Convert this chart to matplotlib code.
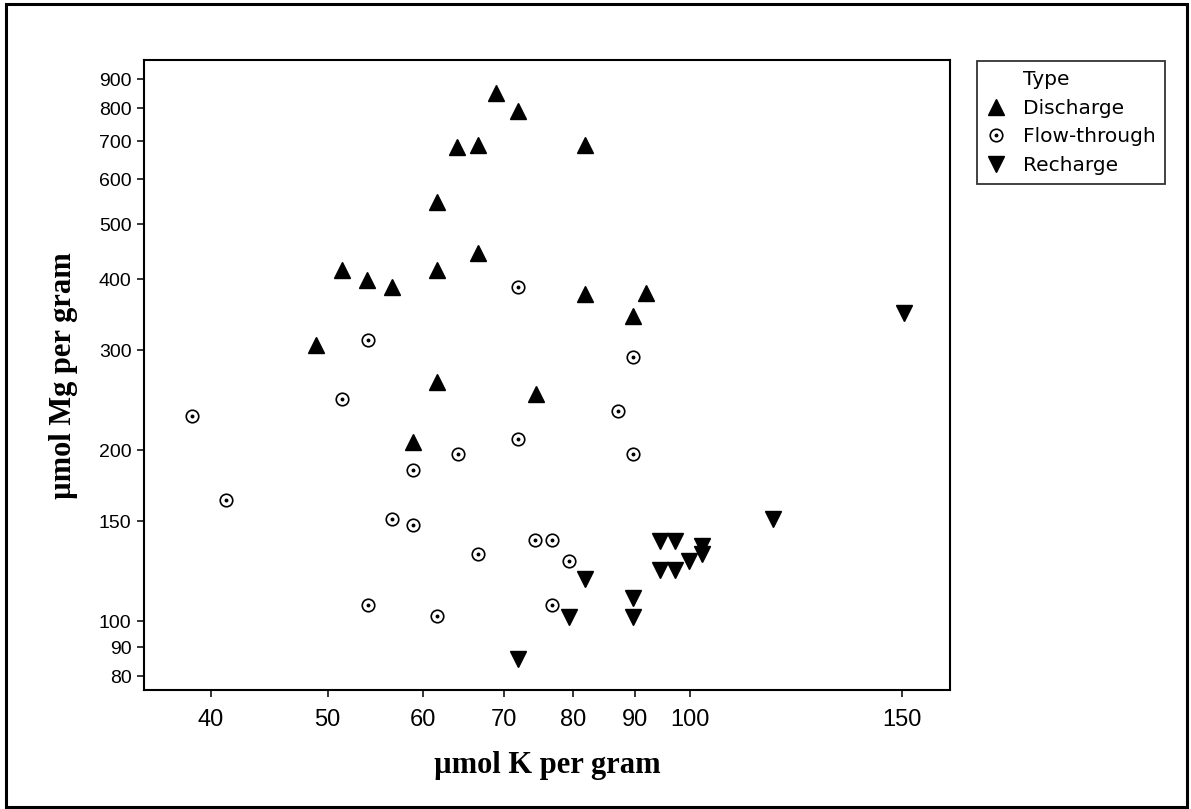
"""
Scatter of Mg vs K (log-log) for discharge / flow-through / recharge sites.

Output:
    out.png
"""

import matplotlib

matplotlib.use("Agg")

import matplotlib.pyplot as plt
from matplotlib.lines import Line2D
from matplotlib.patches import Rectangle
from matplotlib.ticker import FixedLocator, NullLocator


OUTPUT_PATH = "out.png"

# values (umol per gram)
discharge_k = [69.0, 71.9, 64.1, 66.7, 81.8, 61.6, 66.7, 61.6, 51.4,
               53.9, 56.6, 81.8, 92.0, 89.6, 48.9, 61.6, 74.5, 58.9]
discharge_mg = [850, 790, 683, 688, 688, 546, 444, 416, 416,
                399, 388, 376, 378, 345, 306, 264, 251, 207]

flow_k = [38.6, 41.2, 51.4, 54.0, 56.6, 54.0, 71.9, 89.6, 87.1, 71.9,
          64.2, 89.6, 58.9, 58.9, 74.3, 76.8, 66.7, 79.3, 76.8, 61.6]
flow_mg = [230, 163.5, 246, 312, 151, 106.7, 387, 292, 234, 209,
           197, 197, 184.7, 147.7, 139, 139, 131.3, 127.6, 106.7, 102.1]

recharge_k = [71.9, 81.8, 79.3, 89.6, 89.6, 94.5, 97.2, 94.5, 97.2,
              99.8, 102.3, 102.3, 117.3, 150.5]
recharge_mg = [85.7, 118.6, 101.6, 109.8, 101.6, 138.4, 138.4, 123, 123,
               127.6, 135.6, 131.3, 151.4, 349]

x_ticks = [40, 50, 60, 70, 80, 90, 100, 150]
y_ticks = [80, 90, 100, 150, 200, 300, 400, 500, 600, 700, 800, 900]

x_label = "\u00b5mol K per gram"
y_label = "\u00b5mol Mg per gram"
legend_title = "Type"
type_names = ["Discharge", "Flow-through", "Recharge"]

TICK_FONT = "Liberation Sans"
LABEL_FONT = "Liberation Serif"
LEGEND_FONT = "DejaVu Sans"


def plot_scatter(ax):
    """Draw the three site types, return legend handles."""
    h_dis, = ax.plot(discharge_k, discharge_mg, linestyle="none", marker="^",
                     markersize=12, color="black")
    h_ring, = ax.plot(flow_k, flow_mg, linestyle="none", marker="o",
                      markersize=9, markerfacecolor="none",
                      markeredgecolor="black", markeredgewidth=1.2)
    h_dot, = ax.plot(flow_k, flow_mg, linestyle="none", marker="o",
                     markersize=1.8, color="black")
    h_rec, = ax.plot(recharge_k, recharge_mg, linestyle="none", marker="v",
                     markersize=12, color="black")
    return [h_dis, (h_ring, h_dot), h_rec]


def style_axes(ax):
    ax.set_xscale("log")
    ax.set_yscale("log")
    ax.set_xlim(35.2, 164.4)
    ax.set_ylim(75.6, 971)

    ax.xaxis.set_major_locator(FixedLocator(x_ticks))
    ax.yaxis.set_major_locator(FixedLocator(y_ticks))
    ax.xaxis.set_minor_locator(NullLocator())
    ax.yaxis.set_minor_locator(NullLocator())
    ax.set_xticklabels([str(v) for v in x_ticks], fontfamily=TICK_FONT,
                       fontsize=17)
    ax.set_yticklabels([str(v) for v in y_ticks], fontfamily=TICK_FONT,
                       fontsize=14)

    ax.tick_params(axis="both", direction="out", length=5, width=1.1,
                   color="black")
    ax.tick_params(axis="x", pad=9)
    ax.tick_params(axis="y", pad=4)

    for spine in ax.spines.values():
        spine.set_linewidth(1.5)
        spine.set_color("black")

    ax.set_xlabel(x_label, fontfamily=LABEL_FONT, fontweight="bold",
                  fontsize=22)
    ax.set_ylabel(y_label, fontfamily=LABEL_FONT, fontweight="bold",
                  fontsize=22)
    ax.xaxis.set_label_coords(0.5, -0.097)
    ax.yaxis.set_label_coords(-0.082, 0.5)


def add_legend(fig, ax, handles):
    blank = Line2D([], [], linestyle="none", marker=None)
    leg = ax.legend(
        [blank] + handles,
        [legend_title] + type_names,
        loc="upper left",
        bbox_to_anchor=(977 / 1191, 1 - 61 / 809),
        bbox_transform=fig.transFigure,
        borderaxespad=0,
        frameon=True,
        fancybox=False,
        edgecolor="black",
        numpoints=1,
        handlelength=1.0,
        handletextpad=0.83,
        borderpad=0.45,
        labelspacing=0.48,
        prop={"family": LEGEND_FONT, "size": 14.5},
    )
    leg.get_frame().set_linewidth(1.3)
    return leg


def main():
    fig = plt.figure(figsize=(11.91, 8.09), dpi=100)
    ax = fig.add_axes([144 / 1191, 1 - 690 / 809, 806 / 1191, 629.5 / 809])

    handles = plot_scatter(ax)
    style_axes(ax)
    add_legend(fig, ax, handles)

    # outer frame round the whole picture
    fig.patches.append(Rectangle((0.005, 0.0025), 0.9916, 0.9926,
                                 transform=fig.transFigure, fill=False,
                                 edgecolor="black", linewidth=2.2))

    fig.savefig(OUTPUT_PATH, dpi=100)
    plt.close(fig)


if __name__ == "__main__":
    main()
